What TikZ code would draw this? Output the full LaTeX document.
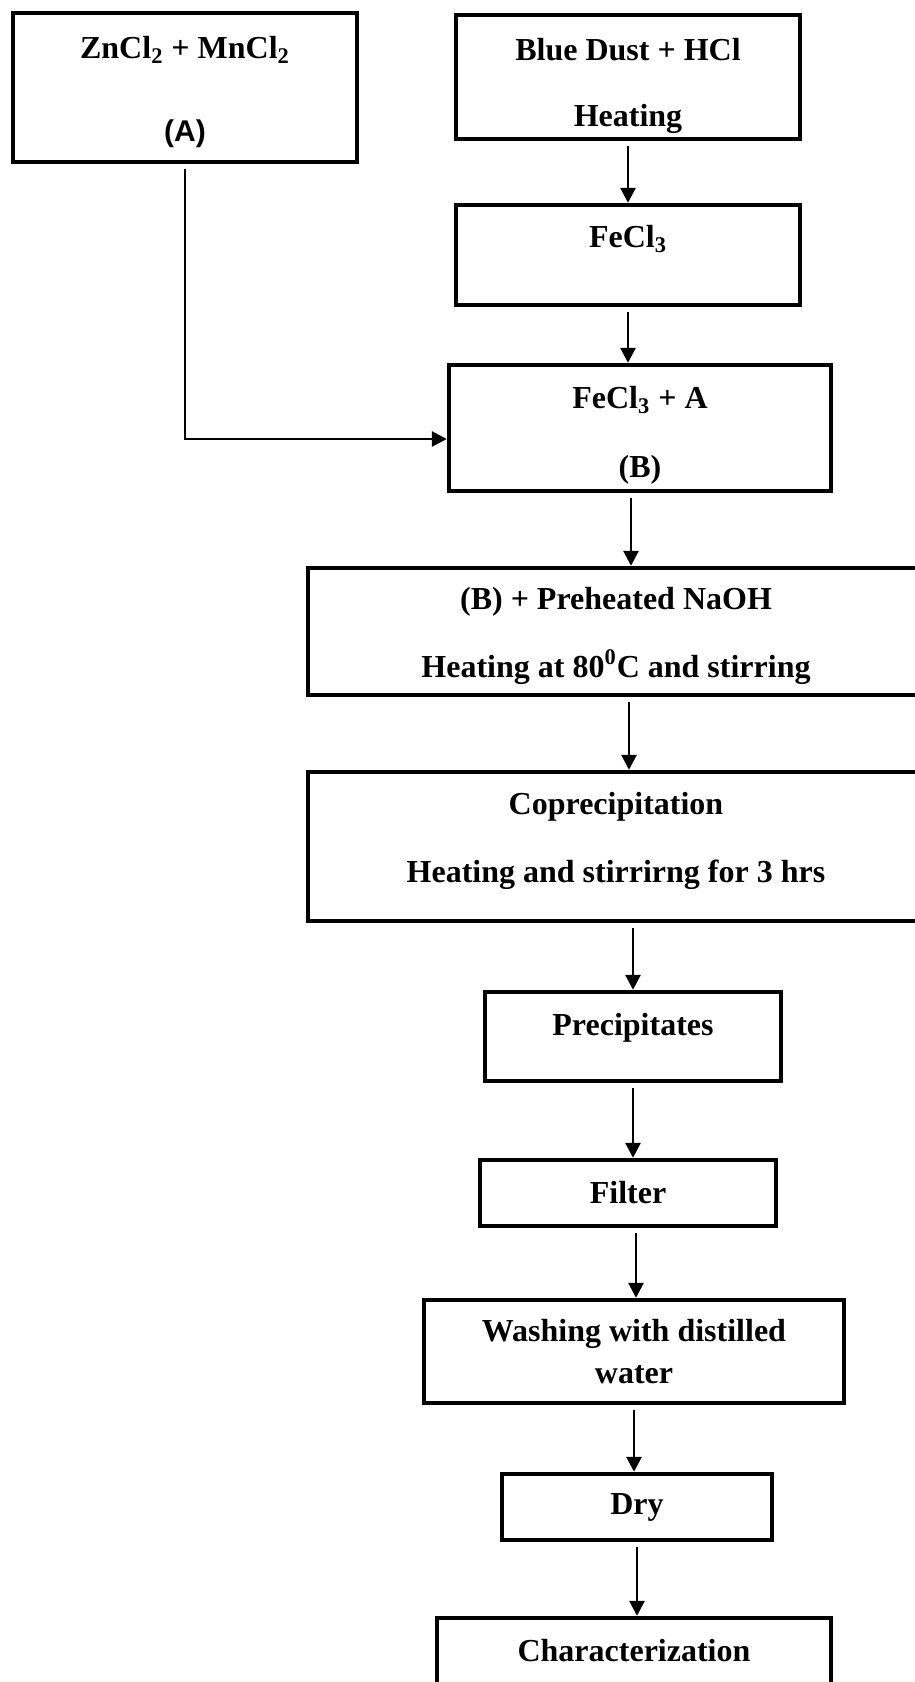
\documentclass[tikz,border=0pt]{standalone}
\usepackage{fontspec}
\setmainfont{Liberation Serif}
\newfontfamily\arialfont{Liberation Sans}
\usetikzlibrary{positioning,arrows.meta}
\tikzset{ %
  ,>={Triangle[length=7.5pt,width=7.5pt]}
  ,every node/.style={font=\bfseries\fontsize{16}{20}\selectfont}
  ,box/.style={draw, line width=2.3pt, inner sep=0, outer sep=0, align=center}
  ,arr/.style={->, line width=1.4pt, shorten <=3.5pt, shorten >=1.1pt}
}

\begin{document}
\begin{tikzpicture}[x=0.5pt, y=-0.5pt]
      \useasboundingbox (0,0) rectangle (915,1682);
      \clip (0,0) rectangle (915,1682);
      \node[box, minimum width=172pt, minimum height=74.5pt] (zn) at (185,87.5)
        {\rule{0pt}{15.3pt}ZnCl\textsubscript{2} + MnCl\textsubscript{2}\\[21.5pt]{\arialfont\fontsize{15}{18}\selectfont (A)}};
      \node[box, minimum width=172pt, minimum height=62pt] (blue) at (628,77)
        {\rule{0pt}{19.6pt}Blue Dust + HCl\\[13pt]Heating};
      \node[box, minimum width=172pt, minimum height=50pt, text depth=19pt, below=33pt of blue] (fe)
        {FeCl\textsubscript{3}};
      \node[box, minimum width=191pt, minimum height=63pt, below=30pt of fe, xshift=6pt] (feA)
        {\rule{0pt}{18.5pt}FeCl\textsubscript{3} + A\\[14.5pt](B)};
      \node[box, minimum width=308pt, minimum height=63.5pt, below=38.5pt of feA, xshift=-12pt] (naoh)
        {\rule{0pt}{15.3pt}(B) + Preheated NaOH\\[14pt]Heating at 80\textsuperscript{0}C and stirring};
      \node[box, minimum width=308pt, minimum height=74.5pt, below=38.5pt of naoh] (copr)
        {Coprecipitation\\[14pt]Heating and stirrirng for 3 hrs\rule[-8.7pt]{0pt}{8.7pt}};
      \node[box, minimum width=148pt, minimum height=44.5pt, text depth=12pt, below=35.5pt of copr, xshift=8.5pt] (prec)
        {Precipitates};
      \node[box, minimum width=148pt, minimum height=33pt, below=39.5pt of prec, xshift=-2.5pt] (filt)
        {Filter};
      \node[box, minimum width=210pt, minimum height=51.5pt, below=37pt of filt, xshift=3pt] (wash)
        {Washing with distilled\\[1pt]water};
      \node[box, minimum width=135pt, minimum height=33pt, below=35.5pt of wash, xshift=1.5pt] (dry)
        {Dry};
      \node[box, minimum width=197pt, minimum height=64pt, text depth=32pt, below=39pt of dry, xshift=-1.5pt] (char)
        {Characterization};
      \draw[arr] (zn.south) |- ([yshift=-5.5pt]feA.west);
      \draw[arr] (blue.south) -- (blue.south |- fe.north);
      \draw[arr] (fe.south) -- (fe.south |- feA.north);
      \draw[arr] ([xshift=-4.5pt]feA.south) -- ([xshift=-4.5pt]feA.south |- naoh.north);
      \draw[arr] ([xshift=6.5pt]naoh.south) -- ([xshift=6.5pt]naoh.south |- copr.north);
      \draw[arr] (copr.south -| prec.north) -- (prec.north);
      \draw[arr] (prec.south) -- (prec.south |- filt.north);
      \draw[arr] ([xshift=4pt]filt.south) -- ([xshift=4pt]filt.south |- wash.north);
      \draw[arr] (wash.south) -- (wash.south |- dry.north);
      \draw[arr] (dry.south) -- (dry.south |- char.north);
    \end{tikzpicture}
\end{document}
